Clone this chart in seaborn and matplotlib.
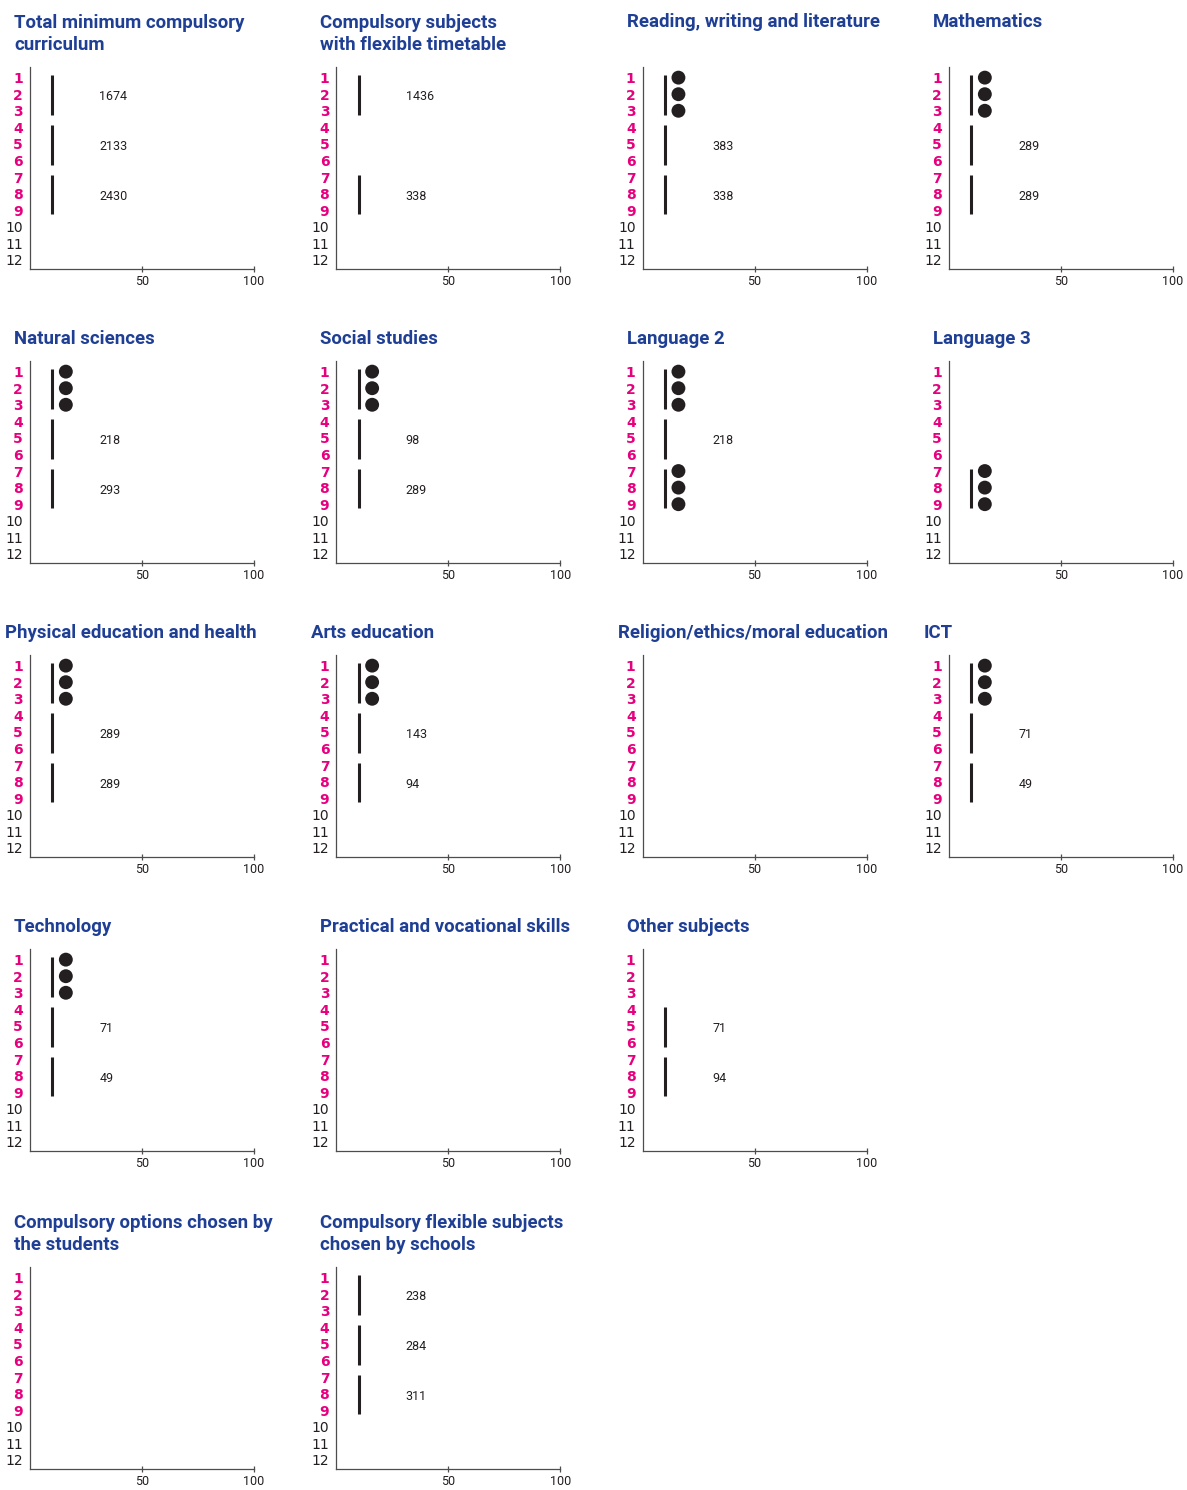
import matplotlib
matplotlib.use("Agg")
import matplotlib.pyplot as plt
import seaborn as sns
import pandas as pd

W, H = 1187, 1490
sns.set_theme(style="white")
NARROW = ['Roboto', 'DejaVu Sans']
plt.rcParams['font.family'] = NARROW

TITLE_COLOR = "#1f3f95"
MAGENTA = "#e6007e"
INK = "#231f20"

titles = [
    "Total minimum compulsory\ncurriculum",
    "Compulsory subjects\nwith flexible timetable",
    "Reading, writing and literature",
    "Mathematics",
    "Natural sciences",
    "Social studies",
    "Language 2",
    "Language 3",
    "Physical education and health",
    "Arts education",
    "Religion/ethics/moral education",
    "ICT",
    "Technology",
    "Practical and vocational skills",
    "Other subjects",
    "Compulsory options chosen by\nthe students",
    "Compulsory flexible subjects\nchosen by schools",
]

grades = list(range(1, 13))
compulsory_last_grade = 9
bands = [(1, 3), (4, 6), (7, 9)]

# per band: label text, "" = bar without label, None = no bar
bar_labels = [
    ["1674", "2133", "2430"],
    ["1436", None, "338"],
    ["", "383", "338"],
    ["", "289", "289"],
    ["", "218", "293"],
    ["", "98", "289"],
    ["", "218", ""],
    [None, None, ""],
    ["", "289", "289"],
    ["", "143", "94"],
    [None, None, None],
    ["", "71", "49"],
    ["", "71", "49"],
    [None, None, None],
    [None, "71", "94"],
    [None, None, None],
    ["238", "284", "311"],
]

dot_grades = [
    [], [], [1, 2, 3], [1, 2, 3], [1, 2, 3], [1, 2, 3],
    [1, 2, 3, 7, 8, 9], [7, 8, 9], [1, 2, 3], [1, 2, 3], [],
    [1, 2, 3], [1, 2, 3], [], [], [], [],
]

x_ticks = [50, 100]
BAR_X = 10
DOT_X = 16
LABEL_X = 31

# panel grid positions (row, col)
positions = [(r, c) for r in range(3) for c in range(4)] + \
            [(3, 0), (3, 1), (3, 2), (4, 0), (4, 1)]

col_left = [30, 336.3, 642.6, 949]
row_top = [66.7, 360.7, 654.7, 948.7, 1266.7]
ax_w, ax_h = 224, 202.3
LINE_PITCH = 23

# number of title lines per row (titles are top-aligned within a row)
row_lines = {}
for t, (r, c) in zip(titles, positions):
    row_lines[r] = max(row_lines.get(r, 1), t.count("\n") + 1)

fig = plt.figure(figsize=(W / 100, H / 100), dpi=100)

for i, title in enumerate(titles):
    r, c = positions[i]
    left, top = col_left[c], row_top[r]
    ax = fig.add_axes([left / W, 1 - (top + ax_h) / H, ax_w / W, ax_h / H])

    # bars
    for (g0, g1), lab in zip(bands, bar_labels[i]):
        if lab is None:
            continue
        ax.vlines(BAR_X, g0 - 0.15, g1 + 0.25, color=INK, lw=2.2)
        if lab:
            ax.text(LABEL_X, (g0 + g1) / 2 + 0.15, lab, ha="left", va="center",
                    fontsize=9, color=INK, family=NARROW)

    # dots
    if dot_grades[i]:
        df = pd.DataFrame({"x": [DOT_X] * len(dot_grades[i]), "grade": dot_grades[i]})
        sns.scatterplot(data=df, x="x", y="grade", ax=ax, s=100, color=INK,
                        edgecolor="none", legend=False, zorder=3)
    ax.set_xlim(0, 100)
    ax.set_ylim(12.55, 0.34)
    ax.set_xlabel("")
    ax.set_ylabel("")

    # axes styling
    for s in ["top", "right"]:
        ax.spines[s].set_visible(False)
    for s in ["left", "bottom"]:
        ax.spines[s].set_color("#4d4d4d")
        ax.spines[s].set_linewidth(0.9)
    ax.set_xticks(x_ticks)
    ax.set_xticklabels([str(t) for t in x_ticks], fontsize=9, family=NARROW, color=INK)
    ax.tick_params(axis="x", direction="inout", length=5, width=0.9,
                   color="#4d4d4d", pad=2, bottom=True)
    ax.set_yticks(grades)
    ax.set_yticklabels([str(g) for g in grades])
    ax.tick_params(axis="y", length=0, pad=5)
    for g, tl in zip(grades, ax.get_yticklabels()):
        tl.set_family("DejaVu Sans")
        tl.set_fontsize(10)
        if g <= compulsory_last_grade:
            tl.set_color(MAGENTA)
            tl.set_fontweight("bold")
        else:
            tl.set_color(INK)
    ax.patch.set_alpha(0)

    # title: top-aligned within a row; va='baseline' anchors the last line
    n_lines = title.count("\n") + 1
    tx = left - (25 if r == 2 else 16)
    first_base = top - 17 - LINE_PITCH * (row_lines[r] - 1)
    base_y = first_base + LINE_PITCH * (n_lines - 1)
    fig.text(tx / W, 1 - base_y / H, title, ha="left", va="baseline",
             fontsize=13.4, fontweight="bold", color=TITLE_COLOR,
             family=NARROW, linespacing=1.27)

fig.savefig("out.png", dpi=100)
